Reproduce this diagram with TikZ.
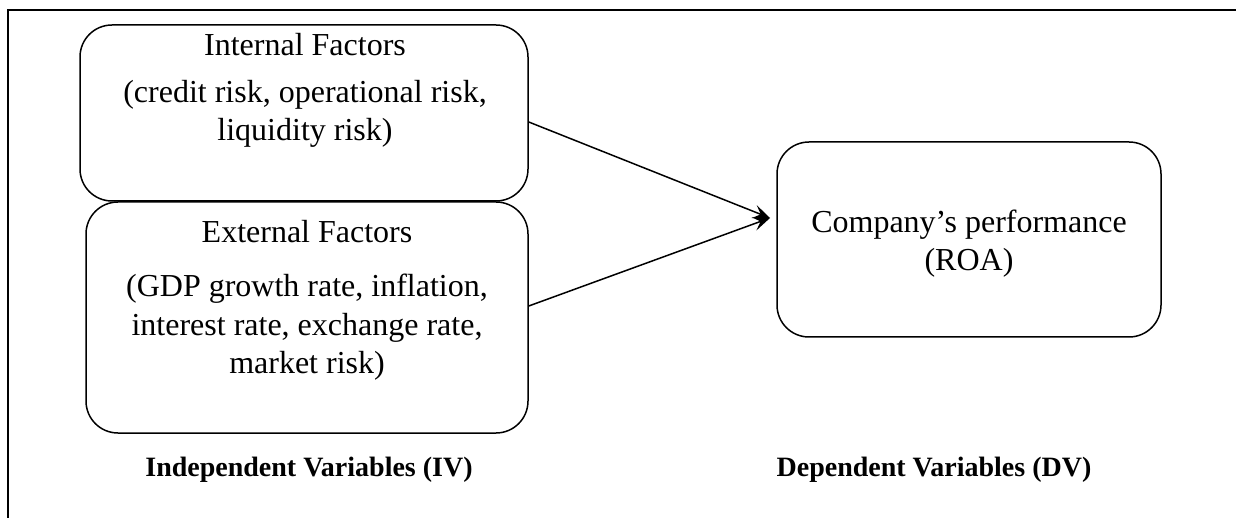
\documentclass[tikz,border=0pt]{standalone}
\usepackage{fontspec}
\setmainfont{Liberation Serif}
\usetikzlibrary{arrows.meta}
\begin{document}
\begin{tikzpicture}[x=1pt,y=-1pt,
  box/.style={draw, line width=1.5pt, rounded corners=32pt, inner sep=0pt},
  txt/.style={font=\fontsize{32}{37}\selectfont, anchor=base, inner sep=0pt},
  lbl/.style={font=\fontsize{28}{33}\selectfont\bfseries, anchor=base, inner sep=0pt},
  conn/.style={line width=1.5pt, -{Stealth[length=17pt,width=14pt,inset=7pt]}},
  frame/.style={line width=2.2pt}]
\useasboundingbox (0,0) rectangle (1236,518);
% frame
\coordinate (fTL) at (8,10);
\coordinate (fTR) at (1236,10);
\coordinate (fBL) at (8,518);
\draw[frame] (fTR) -- (fTL) -- (fBL);
% boxes
\node[box, minimum width=448pt, minimum height=176pt] (int) at (304,113) {};
\node[box, minimum width=442pt, minimum height=231pt] (ext) at (307,317.5) {};
\node[box, minimum width=384pt, minimum height=195pt] (dv) at (969,239.5) {};
% texts
\node[txt] (t1) at (305,56) {Internal Factors};
\node[txt] (t2) at (305,103) {(credit risk, operational risk,};
\node[txt] (t3) at (305,141) {liquidity risk)};
\node[txt] (e1) at (307,243) {External Factors};
\node[txt] (e2) at (307,297) {(GDP growth rate, inflation,};
\node[txt] (e3) at (307,335) {interest rate, exchange rate,};
\node[txt] (e4) at (307,373) {market risk)};
\node[txt] (d1) at (969,233) {Company’s performance};
\node[txt] (d2) at (969,271) {(ROA)};
\node[lbl] (iv) at (309,476) {Independent Variables (IV)};
\node[lbl] (dvl) at (934,476) {Dependent Variables (DV)};
% connectors
\coordinate (tip) at (770,218);
\draw[conn] ([yshift=-9pt]int.east) -- (tip);
\draw[conn] ([yshift=11.5pt]ext.east) -- (tip);
\end{tikzpicture}
\end{document}
